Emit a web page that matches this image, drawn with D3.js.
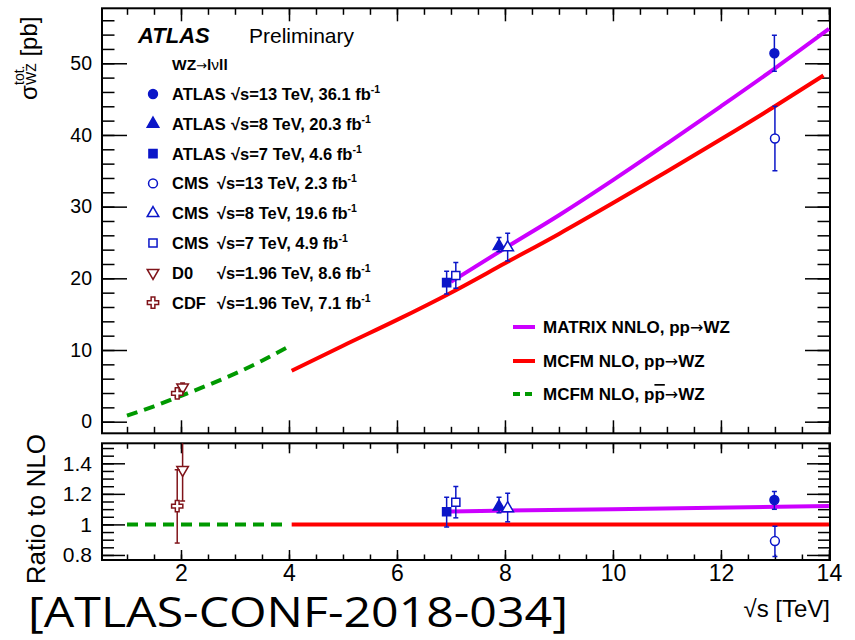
<!DOCTYPE html>
<html>
<head>
<meta charset="utf-8">
<script src="https://cdn.jsdelivr.net/npm/d3@7.9.0/dist/d3.min.js"></script>
<style>
  body { margin: 0; background: #fff; }
  svg { display: block; }
  text { fill: #000; }
</style>
</head>
<body>
<svg id="chart" width="855" height="640" font-family="Liberation Sans, Arial, Helvetica, sans-serif"></svg>
<script>
// theory curves, top panel (sqrt(s) in TeV, sigma in pb)
const nnloPPEnergy = [7.0, 8, 9, 10, 11, 12, 13, 14];
const nnloPPXsec = [19.5, 24.2, 28.8, 33.7, 38.8, 44.0, 49.3, 54.8];
const nloPPEnergy = [4.05, 5, 6, 7, 8, 9, 10, 11, 12, 13, 13.9];
const nloPPXsec = [7.1, 10.6, 14.2, 18.0, 22.1, 26.2, 30.5, 34.9, 39.4, 44.0, 48.3];
const nloPPbarEnergy = [1.0, 1.5, 2.0, 2.5, 3.0, 3.5, 4.0];
const nloPPbarXsec = [0.85, 2.15, 3.6, 5.1, 6.7, 8.5, 10.5];

// theory curves, ratio panel
const nnloRatioEnergy = [7.0, 10, 14];
const nnloRatio = [1.085, 1.10, 1.12];
const nloPPRatioEnergy = [4.05, 14];
const nloPPRatio = [1, 1];
const nloPPbarRatioEnergy = [1.0, 4.0];
const nloPPbarRatio = [1, 1];

// measurements
const measExperiment = ["ATLAS", "ATLAS", "ATLAS", "CMS", "CMS", "CMS", "D0", "CDF"];
const measEnergyText = ["13", "8", "7", "13", "8", "7", "1.96", "1.96"];
const measLumiText = ["36.1", "20.3", "4.6", "2.3", "19.6", "4.9", "8.6", "7.1"];
const measEnergy = [12.99, 7.89, 6.92, 13.0, 8.05, 7.09, 2.03, 1.93];
const measXsec = [51.4, 24.5, 19.4, 39.5, 24.3, 20.4, 4.8, 3.95];
const measXsecHi = [53.9, 25.7, 21.0, 44.0, 26.3, 22.2, 5.4, 4.55];
const measXsecLo = [48.9, 23.7, 17.8, 35.0, 22.4, 18.6, 4.2, 3.4];
const measRatio = [1.160, 1.116, 1.083, 0.891, 1.105, 1.145, 1.358, 1.120];
const measRatioHi = [1.215, 1.178, 1.178, 0.988, 1.204, 1.248, 1.65, 1.358];
const measRatioLo = [1.099, 1.076, 0.983, 0.790, 1.017, 1.043, 1.153, 0.878];
const measMarker = ["circle", "triangle", "square", "circle", "triangle", "square", "triangleDown", "cross"];
const measFilled = [true, true, true, false, false, false, false, false];

// axis ticks
const xMajorTicks = [2, 4, 6, 8, 10, 12, 14];
const xTickLabels = ["2", "4", "6", "8", "10", "12", "14"];
const yTopMajorTicks = [0, 10, 20, 30, 40, 50];
const yTopTickLabels = ["0", "10", "20", "30", "40", "50"];
const yRatioMajorTicks = [0.8, 1.0, 1.2, 1.4];
const yRatioTickLabels = ["0.8", "1", "1.2", "1.4"];

const blue = "#0b16c8";
const darkRed = "#80141a";
const purple = "#cc00ff";
const red = "#ff0000";
const green = "#009900";

const svg = d3.select("#chart");

const left = 102, right = 830;
const top1 = 8.3, bottom1 = 433.3;
const top2 = 443.3, bottom2 = 560;

const x = d3.scaleLinear().domain([0.537, 14.02]).range([left, right]);
const yTop = d3.scaleLinear().domain([-1.62, 57.67]).range([bottom1, top1]);
const yRatio = d3.scaleLinear().domain([0.767, 1.531]).range([bottom2, top2]);

const xMinor = d3.range(0.5, 14.01, 0.5).filter((v) => v >= 0.537);
const yTopMinor = d3.range(0, 57, 2);
const yRatioMinor = d3.range(0.8, 1.53, 0.05);

const defs = svg.append("defs");
defs.append("clipPath").attr("id", "clipTop")
  .append("rect").attr("x", left).attr("y", top1).attr("width", right - left).attr("height", bottom1 - top1);
defs.append("clipPath").attr("id", "clipRatio")
  .append("rect").attr("x", left).attr("y", top2).attr("width", right - left).attr("height", bottom2 - top2);

function labelFrom(values, labels) {
  return (d) => labels[values.indexOf(d)];
}

function drawFrameTicks(yScale, y0, y1, yMajor, yMinor, xLen, yLen, showXLabels, yLabels, yFont) {
  const g = svg.append("g");
  const tickStyle = (sel) => {
    sel.attr("font-family", null);
    sel.select(".domain").remove();
    sel.selectAll("line").attr("stroke", "#000").attr("stroke-width", 1.5);
  };
  // bottom
  g.append("g").attr("transform", `translate(0,${y1})`)
    .call(d3.axisBottom(x).tickValues(xMinor).tickSize(-xLen[1]).tickFormat(""))
    .call(tickStyle);
  const bottomAxis = g.append("g").attr("transform", `translate(0,${y1})`)
    .call(d3.axisBottom(x).tickValues(xMajorTicks).tickSizeInner(-xLen[0]).tickSizeOuter(0).tickPadding(5)
      .tickFormat(showXLabels ? labelFrom(xMajorTicks, xTickLabels) : ""))
    .call(tickStyle);
  bottomAxis.attr("font-size", 23);
  // top
  g.append("g").attr("transform", `translate(0,${y0})`)
    .call(d3.axisTop(x).tickValues(xMinor).tickSize(-xLen[1]).tickFormat(""))
    .call(tickStyle);
  g.append("g").attr("transform", `translate(0,${y0})`)
    .call(d3.axisTop(x).tickValues(xMajorTicks).tickSize(-xLen[0]).tickFormat(""))
    .call(tickStyle);
  // left
  g.append("g").attr("transform", `translate(${left},0)`)
    .call(d3.axisLeft(yScale).tickValues(yMinor).tickSize(-yLen[1]).tickFormat(""))
    .call(tickStyle);
  const leftAxis = g.append("g").attr("transform", `translate(${left},0)`)
    .call(d3.axisLeft(yScale).tickValues(yMajor).tickSizeInner(-yLen[0]).tickSizeOuter(0).tickPadding(10)
      .tickFormat(labelFrom(yMajor, yLabels)))
    .call(tickStyle);
  leftAxis.attr("font-size", yFont);
  // right
  g.append("g").attr("transform", `translate(${right},0)`)
    .call(d3.axisRight(yScale).tickValues(yMinor).tickSize(-yLen[1]).tickFormat(""))
    .call(tickStyle);
  g.append("g").attr("transform", `translate(${right},0)`)
    .call(d3.axisRight(yScale).tickValues(yMajor).tickSize(-yLen[0]).tickFormat(""))
    .call(tickStyle);
  // frame
  svg.append("rect")
    .attr("x", left).attr("y", y0).attr("width", right - left).attr("height", y1 - y0)
    .attr("fill", "none").attr("stroke", "#000").attr("stroke-width", 2);
}

drawFrameTicks(yTop, top1, bottom1, yTopMajorTicks, yTopMinor, [13, 6.5], [25, 12.5], false, yTopTickLabels, 19.5);
drawFrameTicks(yRatio, top2, bottom2, yRatioMajorTicks, yRatioMinor, [10, 5.5], [23, 12], true, yRatioTickLabels, 21);

// curves
function drawCurve(yScale, clip, xs, ys, color, dashed) {
  const line = d3.line()
    .x((d, i) => x(xs[i]))
    .y((d, i) => yScale(ys[i]))
    .curve(d3.curveMonotoneX);
  svg.append("path")
    .attr("clip-path", `url(#${clip})`)
    .attr("d", line(xs))
    .attr("fill", "none")
    .attr("stroke", color)
    .attr("stroke-width", 4)
    .attr("stroke-dasharray", dashed ? "11,7" : null);
}

drawCurve(yTop, "clipTop", nloPPbarEnergy, nloPPbarXsec, green, true);
drawCurve(yTop, "clipTop", nloPPEnergy, nloPPXsec, red, false);
drawCurve(yTop, "clipTop", nnloPPEnergy, nnloPPXsec, purple, false);
drawCurve(yRatio, "clipRatio", nloPPbarRatioEnergy, nloPPbarRatio, green, true);
drawCurve(yRatio, "clipRatio", nloPPRatioEnergy, nloPPRatio, red, false);
drawCurve(yRatio, "clipRatio", nnloRatioEnergy, nnloRatio, purple, false);

// markers
function markerPath(kind) {
  if (kind === "circle") return d3.symbol().type(d3.symbolCircle).size(62)();
  if (kind === "square") return d3.symbol().type(d3.symbolSquare).size(66)();
  if (kind === "cross") return d3.symbol().type(d3.symbolCross).size(70)();
  return d3.symbol().type(d3.symbolTriangle).size(58)();
}

function drawMarker(g, kind, filled, color, px, py) {
  g.append("path")
    .attr("d", markerPath(kind))
    .attr("transform", `translate(${px},${py})${kind === "triangleDown" ? " rotate(180)" : ""}`)
    .attr("fill", filled ? color : "#fff")
    .attr("stroke", color)
    .attr("stroke-width", 1.5);
}

function drawPoints(yScale, clip, vals, his, los) {
  const g = svg.append("g").attr("clip-path", `url(#${clip})`);
  measEnergy.forEach((e, i) => {
    const color = i >= 6 ? darkRed : blue;
    const px = x(e);
    g.append("line")
      .attr("x1", px).attr("x2", px)
      .attr("y1", yScale(his[i])).attr("y2", yScale(los[i]))
      .attr("stroke", color).attr("stroke-width", 1.5);
    [his[i], los[i]].forEach((v) => {
      g.append("line")
        .attr("x1", px - 2.5).attr("x2", px + 2.5)
        .attr("y1", yScale(v)).attr("y2", yScale(v))
        .attr("stroke", color).attr("stroke-width", 1.5);
    });
    drawMarker(g, measMarker[i], measFilled[i], color, px, yScale(vals[i]));
  });
}

drawPoints(yTop, "clipTop", measXsec, measXsecHi, measXsecLo);
drawPoints(yRatio, "clipRatio", measRatio, measRatioHi, measRatioLo);

// ATLAS label
svg.append("text").attr("x", 138).attr("y", 43)
  .attr("font-size", 22).attr("font-weight", "bold").attr("font-style", "italic").text("ATLAS");
svg.append("text").attr("x", 249).attr("y", 43)
  .attr("font-size", 21).text("Preliminary");

const arrowFont = "DejaVu Sans, sans-serif";
const proc = svg.append("text").attr("x", 172).attr("y", 70).attr("font-size", 15.5).attr("font-weight", "bold");
proc.append("tspan").text("WZ");
proc.append("tspan").attr("font-weight", "normal").attr("font-family", arrowFont).attr("font-size", 13).text("\u2192");
proc.append("tspan").text("l");
proc.append("tspan").attr("font-weight", "normal").text("\u03bd");
proc.append("tspan").text("ll");

// measurement legend
const legRowY = (i) => 94 + 29.8 * i;
const legendG = svg.append("g");
measExperiment.forEach((name, i) => {
  const color = i >= 6 ? darkRed : blue;
  drawMarker(legendG, measMarker[i], measFilled[i], color, 153, legRowY(i));
  const t = legendG.append("text")
    .attr("x", 172).attr("y", legRowY(i) + 6)
    .attr("font-size", 16.5).attr("font-weight", "bold");
  t.append("tspan").text(name);
  t.append("tspan").attr("x", name === "ATLAS" ? 231 : 217)
    .text(`\u221As=${measEnergyText[i]} TeV, ${measLumiText[i]} fb`);
  t.append("tspan").attr("dy", -7).attr("font-size", 10.5).text("-1");
});

// theory legend
const theoryNames = ["MATRIX NNLO, pp", "MCFM NLO, pp", "MCFM NLO, p"];
const theoryColors = [purple, red, green];
const theoryDashed = [false, false, true];
const theoryRowY = [327, 361, 394];
theoryNames.forEach((name, i) => {
  svg.append("line")
    .attr("x1", 513).attr("x2", 535)
    .attr("y1", theoryRowY[i]).attr("y2", theoryRowY[i])
    .attr("stroke", theoryColors[i]).attr("stroke-width", 4)
    .attr("stroke-dasharray", theoryDashed[i] ? "7,5" : null);
  const t = svg.append("text").attr("x", 543).attr("y", theoryRowY[i] + 6)
    .attr("font-size", 17).attr("font-weight", "bold");
  t.append("tspan").text(name);
  if (i === 2) {
    t.append("tspan").style("text-decoration", "overline").text("p");
  }
  t.append("tspan").attr("font-weight", "normal").attr("font-family", arrowFont).attr("font-size", 16).text("\u2192");
  t.append("tspan").text("WZ");
});

// y title, top panel
const yTitle = svg.append("text")
  .attr("transform", "translate(37,100) rotate(-90)")
  .attr("font-size", 24);
yTitle.append("tspan").attr("x", 0).attr("y", 0).text("\u03c3");
yTitle.append("tspan").attr("x", 15).attr("y", -13).attr("font-size", 14).text("tot.");
yTitle.append("tspan").attr("x", 15).attr("y", -1).attr("font-size", 14).text("WZ");
yTitle.append("tspan").attr("y", 0).text(" [pb]");

// y title, ratio panel
svg.append("text")
  .attr("transform", "translate(45,434) rotate(-90)")
  .attr("text-anchor", "end")
  .attr("font-size", 26)
  .text("Ratio to NLO");

// x title
svg.append("text").attr("x", right).attr("y", 617)
  .attr("text-anchor", "end").attr("font-size", 24)
  .text("\u221As [TeV]");

// reference tag
svg.append("text").attr("x", 28).attr("y", 627)
  .attr("font-family", "Open Sans, Noto Sans, sans-serif")
  .attr("font-size", 42)
  .attr("textLength", 540).attr("lengthAdjust", "spacingAndGlyphs")
  .text("[ATLAS-CONF-2018-034]");
</script>
</body>
</html>
